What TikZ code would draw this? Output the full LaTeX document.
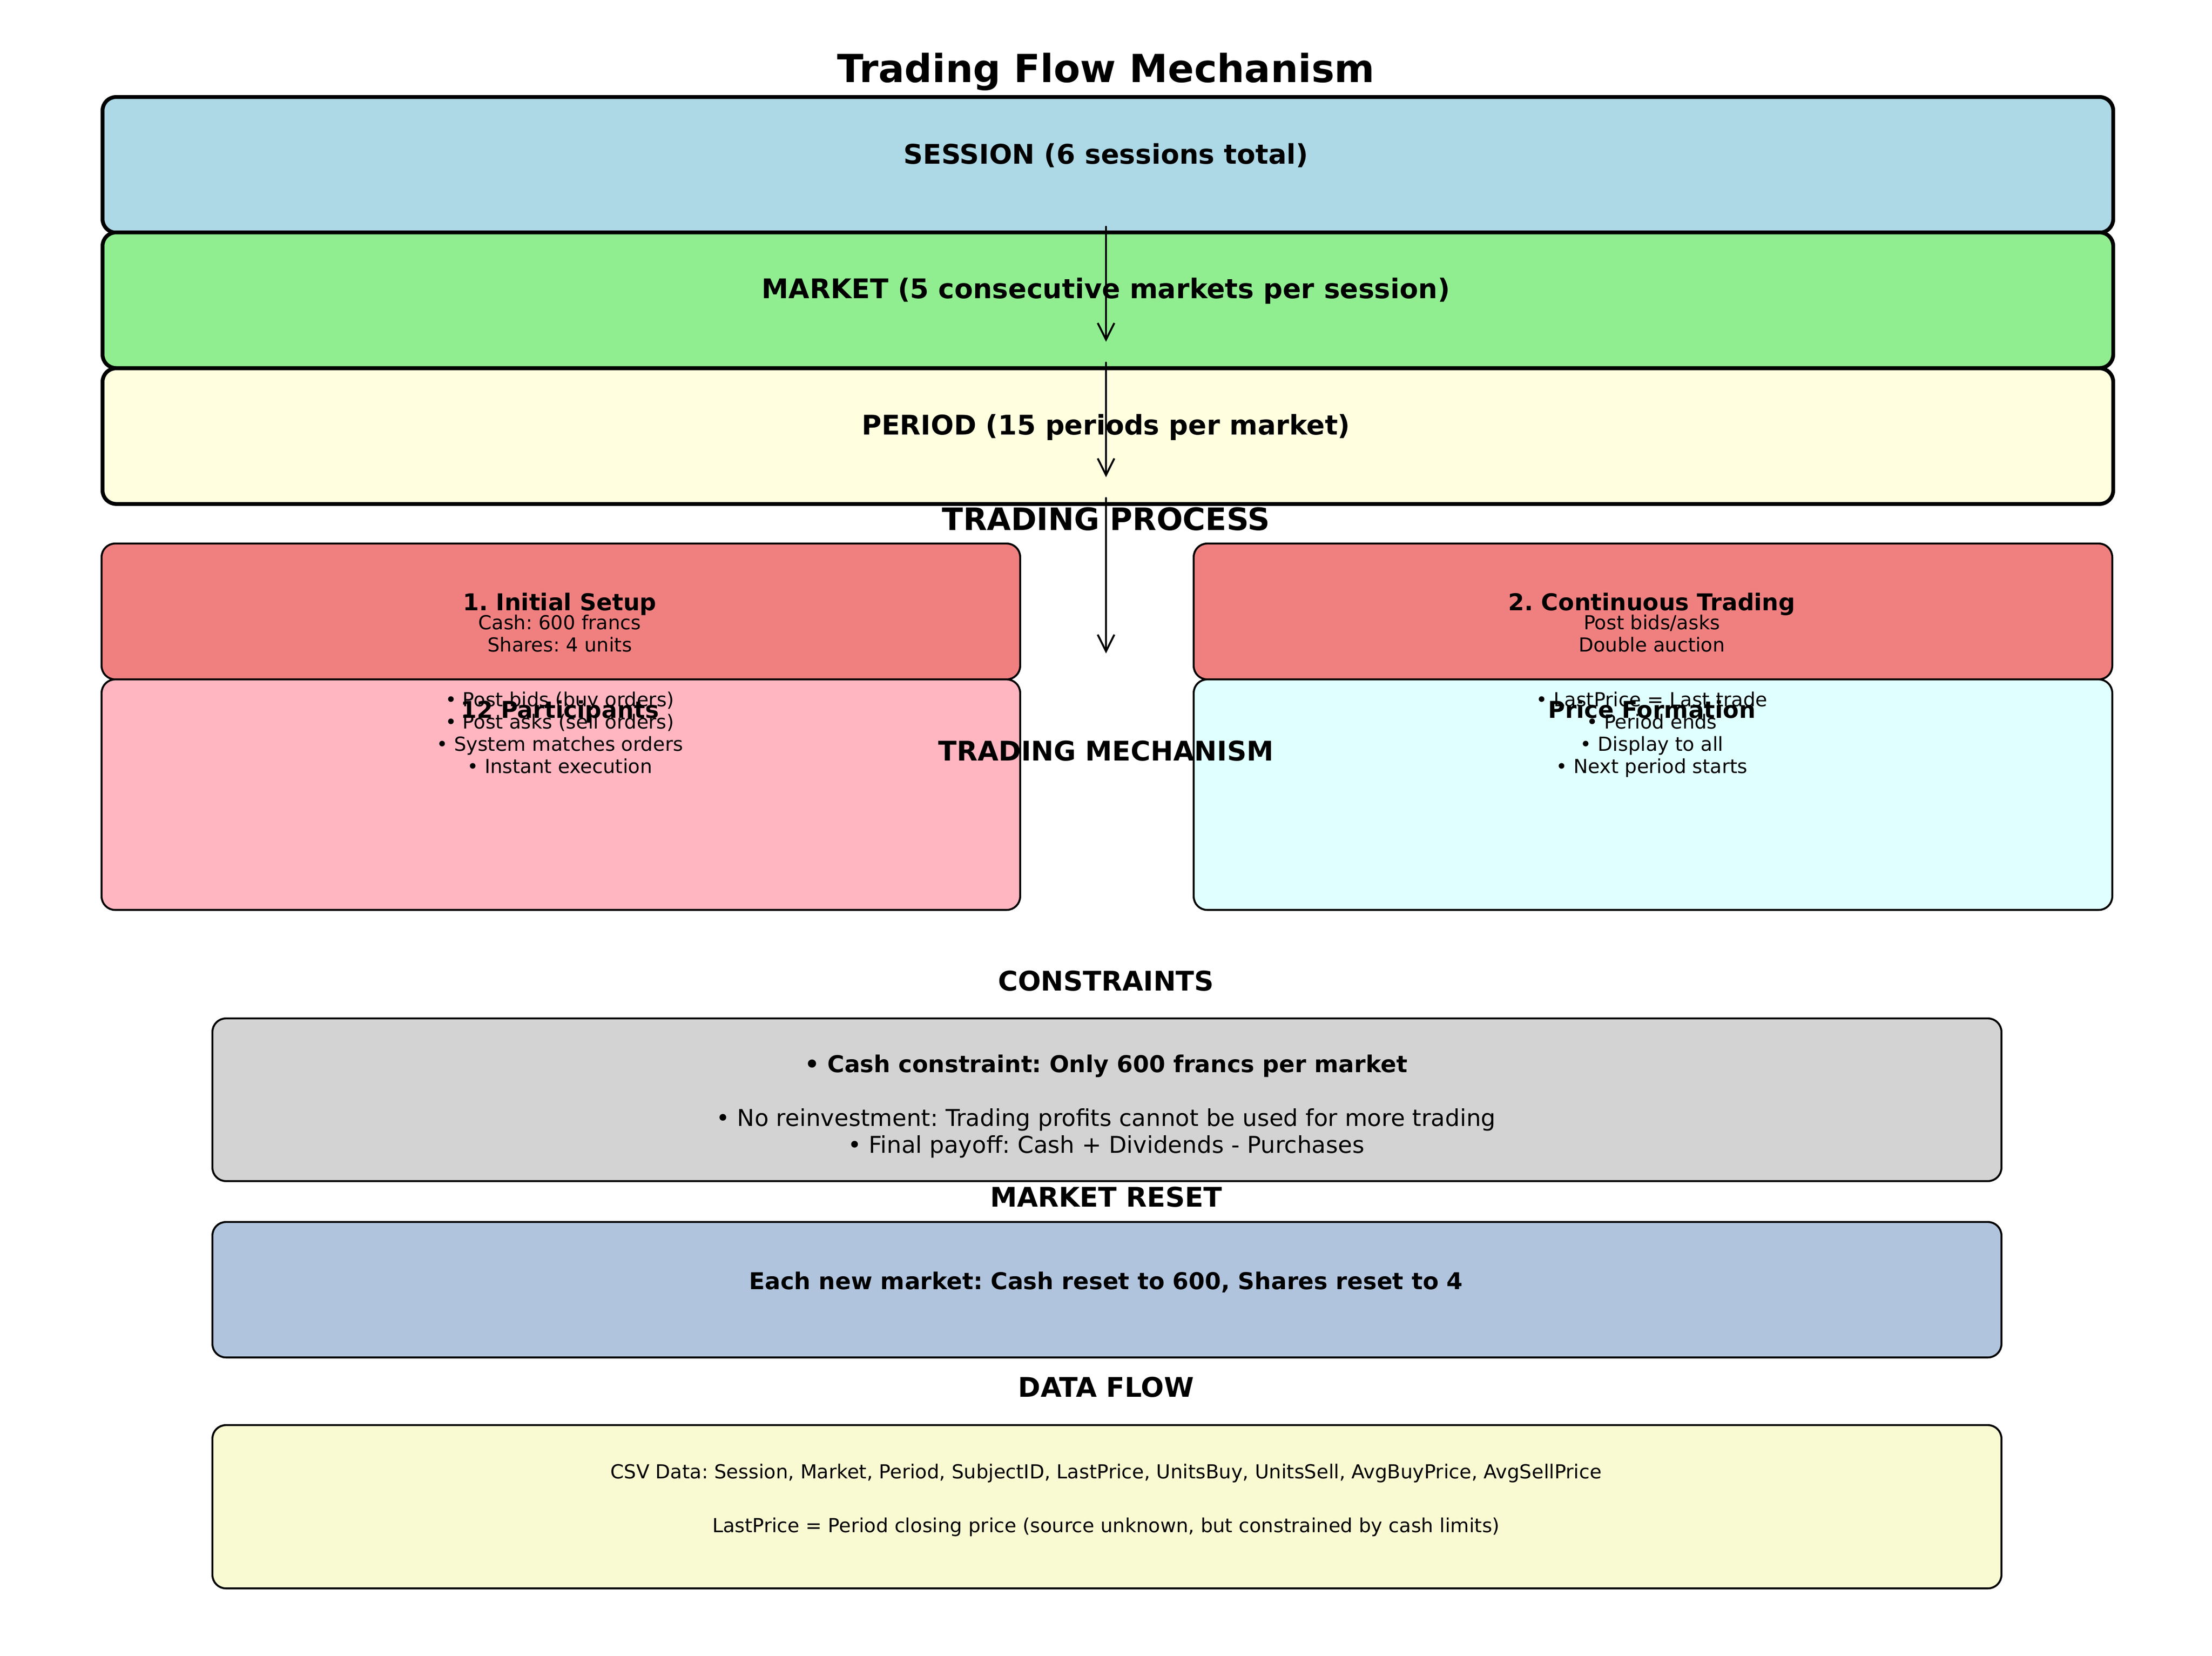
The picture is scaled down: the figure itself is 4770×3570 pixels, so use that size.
\documentclass[tikz,border=0pt]{standalone}
\usepackage{fontspec}
\setmainfont{DejaVu Sans}
\usetikzlibrary{arrows.meta,positioning}
\definecolor{sessionblue}{HTML}{ADD8E6}
\definecolor{marketgreen}{HTML}{90EE90}
\definecolor{periodyellow}{HTML}{FFFFE0}
\definecolor{setupcoral}{HTML}{F08080}
\definecolor{partpink}{HTML}{FFB6C1}
\definecolor{pricecyan}{HTML}{E0FFFF}
\definecolor{constrgray}{HTML}{D3D3D3}
\definecolor{resetsteel}{HTML}{B0C4DE}
\definecolor{datagold}{HTML}{FAFAD2}
\tikzset{
	levelbox/.style={draw,line width=2pt,rounded corners=7pt,anchor=north west,inner sep=0,minimum width=1040.6pt,minimum height=70.2pt},
	halfbox/.style={draw,line width=1pt,rounded corners=7pt,anchor=north west,inner sep=0,minimum width=475.4pt},
	lowbox/.style={draw,line width=1pt,rounded corners=7pt,anchor=north west,inner sep=0,minimum width=925.9pt},
	maintitle/.style={anchor=base,inner sep=0,font=\fontsize{20}{24}\selectfont\bfseries},
	sectitle/.style={anchor=base,inner sep=0,font=\fontsize{14}{16.8}\selectfont\bfseries},
	bigtitle/.style={anchor=base,inner sep=0,font=\fontsize{16}{19.2}\selectfont\bfseries},
	boxhead/.style={anchor=base,inner sep=0,font=\fontsize{12}{14.4}\selectfont\bfseries},
	boxline/.style={anchor=base,inner sep=0,font=\fontsize{12}{14.4}\selectfont},
	smalltext/.style={anchor=base,inner sep=0,font=\fontsize{10}{12}\selectfont},
	flow/.style={-{Straight Barb[length=8.6pt,width=8.6pt]},line width=1pt,line cap=round,line join=round}
}
\begin{document}
\frenchspacing
\begin{tikzpicture}[x=0.24pt,y=-0.24pt]
	\useasboundingbox (0,0) rectangle (4770,3570);
	
	%%%% hierarchy
	\node[maintitle] (title) at (2385,177) {Trading Flow Mechanism};
	\node[levelbox,fill=sessionblue] (session) at (217,205) {};
	\node[levelbox,fill=marketgreen] (market) at (217,497) {};
	\node[levelbox,fill=periodyellow] (period) at (217,790) {};
	\node[sectitle] (sessiontxt) at (2385,353) {SESSION (6 sessions total)};
	\node[sectitle] (markettxt) at (2385,643) {MARKET (5 consecutive markets per session)};
	\node[sectitle] (periodtxt) at (2385,937) {PERIOD (15 periods per market)};
	
	%%%% trading process
	\node[bigtitle] (proctitle) at (2385,1143) {TRADING PROCESS};
	\node[halfbox,fill=setupcoral,minimum height=70.3pt] (setup) at (217,1170) {};
	\node[halfbox,fill=setupcoral,minimum height=70.3pt] (contin) at (2572,1170) {};
	\node[halfbox,fill=partpink,minimum height=119.3pt] (particip) at (217,1463) {};
	\node[halfbox,fill=pricecyan,minimum height=119.3pt] (pricef) at (2572,1463) {};
	
	\node[boxhead] (setuphead) at (1207,1316) {1. Initial Setup};
	\node[smalltext] (setup1) at (1207,1357) {Cash: 600 francs};
	\node[smalltext] (setup2) at (1207,1405) {Shares: 4 units};
	\node[boxhead] (continhead) at (3562,1316) {2. Continuous Trading};
	\node[smalltext] (contin1) at (3562,1357) {Post bids/asks};
	\node[smalltext] (contin2) at (3562,1405) {Double auction};
	
	\node[boxhead] (partichead) at (1207,1548) {12 Participants};
	\node[smalltext] (partic1) at (1207,1523) {• Post bids (buy orders)};
	\node[smalltext] (partic2) at (1207,1571) {• Post asks (sell orders)};
	\node[smalltext] (partic3) at (1207,1619) {• System matches orders};
	\node[smalltext] (partic4) at (1207,1667) {• Instant execution};
	\node[boxhead] (pricehead) at (3562,1548) {Price Formation};
	\node[smalltext] (price1) at (3562,1523) {• LastPrice = Last trade};
	\node[smalltext] (price2) at (3562,1571) {• Period ends};
	\node[smalltext] (price3) at (3562,1619) {• Display to all};
	\node[smalltext] (price4) at (3562,1667) {• Next period starts};
	\node[sectitle] (mechtitle) at (2385,1640) {TRADING MECHANISM};
	
	%%%% constraints, reset, data
	\node[sectitle] (constrtitle) at (2385,2136) {CONSTRAINTS};
	\node[lowbox,fill=constrgray,minimum height=84.2pt] (constr) at (456,2194) {};
	\node[boxhead] (constr1) at (2385,2312) {• Cash constraint: Only 600 francs per market};
	\node[boxline] (constr2) at (2385,2428) {• No reinvestment: Trading profits cannot be used for more trading};
	\node[boxline] (constr3) at (2385,2486) {• Final payoff: Cash + Dividends - Purchases};
	
	\node[sectitle] (resettitle) at (2385,2602) {MARKET RESET};
	\node[lowbox,fill=resetsteel,minimum height=70.1pt] (reset) at (456,2633) {};
	\node[boxhead] (reset1) at (2385,2780) {Each new market: Cash reset to 600, Shares reset to 4};
	
	\node[sectitle] (datatitle) at (2385,3012) {DATA FLOW};
	\node[lowbox,fill=datagold,minimum height=84.5pt] (data) at (456,3071) {};
	\node[smalltext] (data1) at (2385,3188) {CSV Data: Session, Market, Period, SubjectID, LastPrice, UnitsBuy, UnitsSell, AvgBuyPrice, AvgSellPrice};
	\node[smalltext] (data2) at (2385,3304) {LastPrice = Period closing price (source unknown, but constrained by cash limits)};
	
	%%%% arrows
	\coordinate (sessionout) at (2385,489);
	\coordinate (marketin) at (2385,737);
	\coordinate (marketout) at (2385,782);
	\coordinate (periodin) at (2385,1029);
	\coordinate (periodout) at (2385,1074);
	\coordinate (procin) at (2385,1409);
	\draw[flow] (sessionout) -- (marketin);
	\draw[flow] (marketout) -- (periodin);
	\draw[flow] (periodout) -- (procin);
\end{tikzpicture}
\end{document}
